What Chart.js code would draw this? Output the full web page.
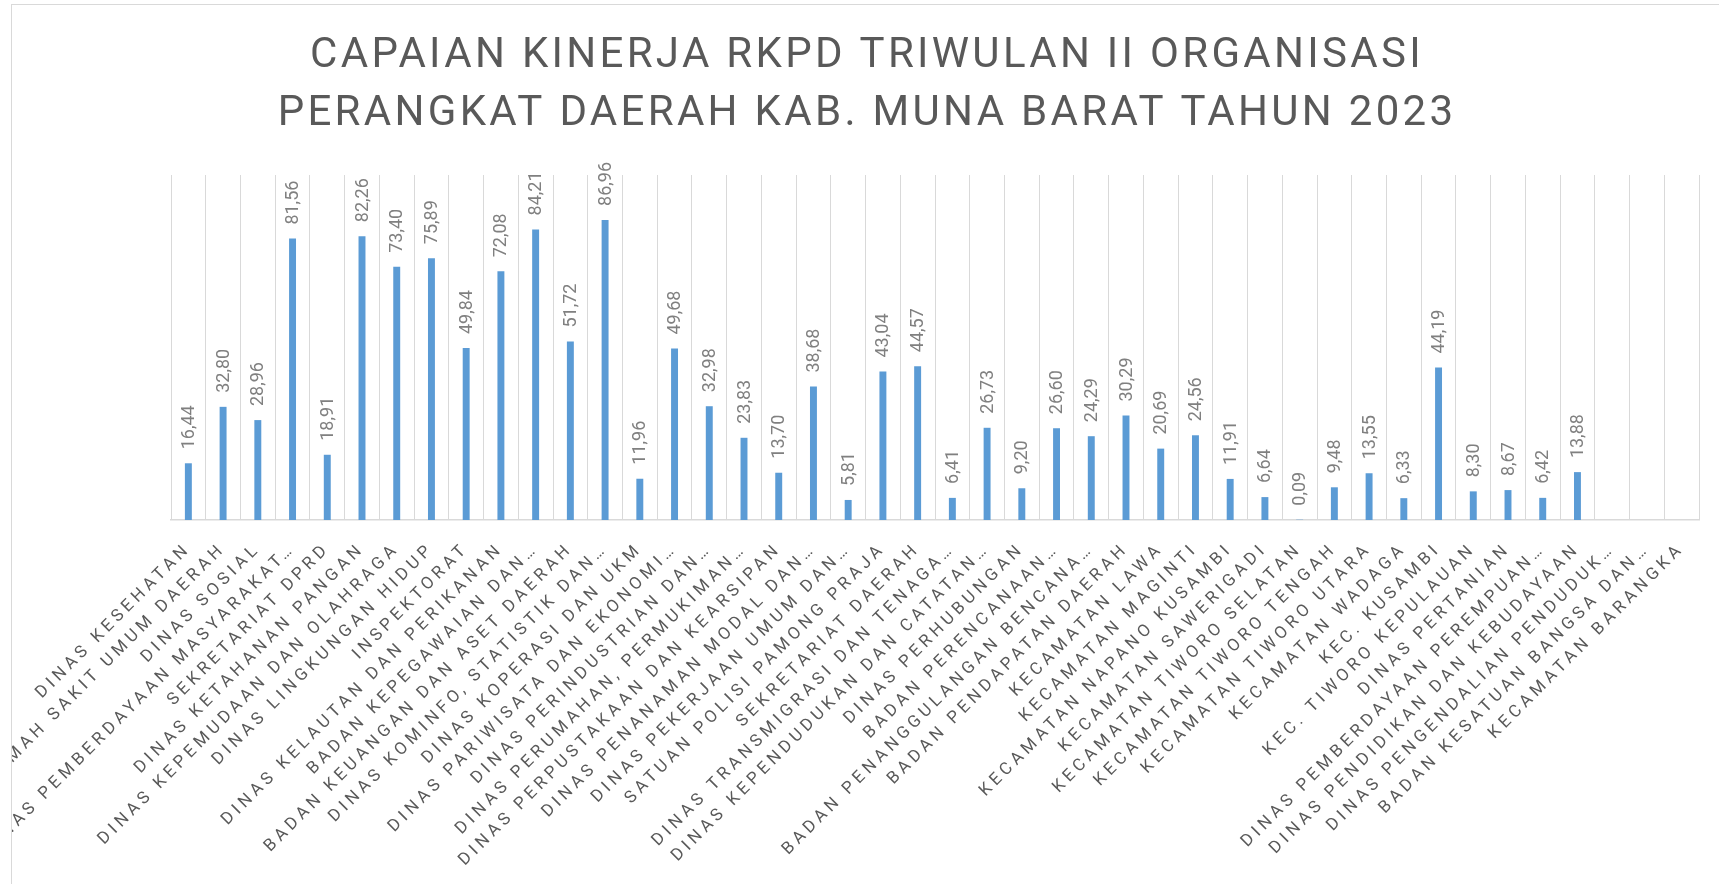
<!DOCTYPE html>
<html>
<head>
<meta charset="utf-8">
<script src="https://cdn.jsdelivr.net/npm/chart.js@4.4.1/dist/chart.umd.min.js"></script>
<style>
  html, body { margin: 0; padding: 0; background: #ffffff; overflow: hidden; width: 1719px; height: 884px; }
  #frame { position: absolute; left: 11px; top: 4px; width: 1710px; height: 880px;
           border-top: 1px solid #d9d9d9; border-left: 1px solid #d9d9d9; }
  canvas { display: block; }
</style>
</head>
<body>
<div id="frame"><canvas id="c" width="1710" height="879"></canvas></div>
<script>
// ---- data ----
const titleLines = [
  "CAPAIAN KINERJA RKPD TRIWULAN II ORGANISASI",
  "PERANGKAT DAERAH KAB. MUNA BARAT TAHUN 2023"
];

const categories = [
  "DINAS KESEHATAN",
  "RUMAH SAKIT UMUM DAERAH",
  "DINAS SOSIAL",
  "DINAS PEMBERDAYAAN MASYARAKAT…",
  "SEKRETARIAT DPRD",
  "DINAS KETAHANAN PANGAN",
  "DINAS KEPEMUDAAN DAN OLAHRAGA",
  "DINAS LINGKUNGAN HIDUP",
  "INSPEKTORAT",
  "DINAS KELAUTAN DAN PERIKANAN",
  "BADAN KEPEGAWAIAN DAN…",
  "BADAN KEUANGAN DAN ASET DAERAH",
  "DINAS KOMINFO, STATISTIK DAN…",
  "DINAS KOPERASI DAN UKM",
  "DINAS PARIWISATA DAN EKONOMI…",
  "DINAS PERINDUSTRIAN DAN…",
  "DINAS PERUMAHAN, PERMUKIMAN…",
  "DINAS PERPUSTAKAAN DAN KEARSIPAN",
  "DINAS PENANAMAN MODAL DAN…",
  "DINAS PEKERJAAN UMUM DAN…",
  "SATUAN POLISI PAMONG PRAJA",
  "SEKRETARIAT DAERAH",
  "DINAS TRANSMIGRASI DAN TENAGA…",
  "DINAS KEPENDUDUKAN DAN CATATAN…",
  "DINAS PERHUBUNGAN",
  "BADAN PERENCANAAN…",
  "BADAN PENANGGULANGAN BENCANA…",
  "BADAN PENDAPATAN DAERAH",
  "KECAMATAN LAWA",
  "KECAMATAN MAGINTI",
  "KECAMATAN NAPANO KUSAMBI",
  "KECAMATAN SAWERIGADI",
  "KECAMATAN TIWORO SELATAN",
  "KECAMATAN TIWORO TENGAH",
  "KECAMATAN TIWORO UTARA",
  "KECAMATAN WADAGA",
  "KEC. KUSAMBI",
  "KEC. TIWORO KEPULAUAN",
  "DINAS PERTANIAN",
  "DINAS PEMBERDAYAAN PEREMPUAN…",
  "DINAS PENDIDIKAN DAN KEBUDAYAAN",
  "DINAS PENGENDALIAN PENDUDUK…",
  "BADAN KESATUAN BANGSA DAN…",
  "KECAMATAN BARANGKA"
];

const capaian = [
  16.44, 32.80, 28.96, 81.56, 18.91, 82.26, 73.40, 75.89, 49.84, 72.08,
  84.21, 51.72, 86.96, 11.96, 49.68, 32.98, 23.83, 13.70, 38.68, 5.81,
  43.04, 44.57, 6.41, 26.73, 9.20, 26.60, 24.29, 30.29, 20.69, 24.56,
  11.91, 6.64, 0.09, 9.48, 13.55, 6.33, 44.19, 8.30, 8.67, 6.42,
  13.88, null, null, null
];

const yMin = 0;
const yMax = 100;

// ---- plugins ----
const spacingPlugin = {
  id: 'spacing',
  beforeDraw(chart) {
    const sx = chart.scales.x;
    if (sx && !sx.__ls) {
      const orig = sx.drawLabels;
      sx.drawLabels = function (area) {
        const c = this.ctx;
        const prev = c.letterSpacing;
        c.letterSpacing = '4.2px';
        orig.call(this, area);
        c.letterSpacing = prev || '0px';
      };
      sx.__ls = true;
    }
    const tb = chart.titleBlock;
    if (tb && !tb.__ls) {
      const o = tb.draw;
      tb.draw = function () {
        const c = this.ctx;
        const prev = c.letterSpacing;
        c.letterSpacing = '3.3px';
        o.apply(this, arguments);
        c.letterSpacing = prev || '0px';
      };
      tb.__ls = true;
    }
  }
};

const valueLabels = {
  id: 'valueLabels',
  afterDatasetsDraw(chart) {
    const ctx = chart.ctx;
    const meta = chart.getDatasetMeta(0);
    ctx.save();
    ctx.letterSpacing = '0px';
    ctx.font = '18px Roboto';
    ctx.fillStyle = '#808080';
    ctx.textAlign = 'left';
    ctx.textBaseline = 'middle';
    meta.data.forEach((bar, i) => {
      const v = capaian[i];
      if (v === null || v === undefined) return;
      ctx.save();
      ctx.translate(bar.x + 1, bar.y - 14);
      ctx.rotate(-Math.PI / 2);
      ctx.fillText(v.toFixed(2).replace('.', ','), 0, 0);
      ctx.restore();
    });
    ctx.restore();
  }
};

new Chart(document.getElementById('c'), {
  type: 'bar',
  data: {
    labels: categories,
    datasets: [{
      data: capaian,
      backgroundColor: '#5B9BD5',
      borderWidth: 0,
      barPercentage: 0.2,
      categoryPercentage: 1.0
    }]
  },
  options: {
    responsive: false,
    animation: false,
    layout: { padding: 0 },
    plugins: {
      legend: { display: false },
      tooltip: { enabled: false },
      title: {
        display: true,
        text: titleLines,
        color: '#595959',
        font: { family: 'Roboto', size: 42, weight: 'normal', lineHeight: 58.5 / 42 },
        padding: { top: 22, bottom: 31 }
      }
    },
    scales: {
      x: {
        grid: { color: '#d9d9d9', lineWidth: 1, drawTicks: false, offset: true },
        border: { color: '#d9d9d9', width: 1.5 },
        ticks: {
          autoSkip: false, maxRotation: 45, minRotation: 45,
          color: '#595959',
          font: { family: 'Roboto', size: 17 },
          padding: 19
        },
        afterFit(s) { s.height = 364; }
      },
      y: {
        min: yMin, max: yMax,
        grid: { display: false },
        border: { display: false },
        ticks: { display: false },
        afterFit(s) { s.width = 159; }
      },
      y2: {
        type: 'linear',
        position: 'right',
        grid: { display: false },
        border: { display: false },
        ticks: { display: false },
        afterFit(s) { s.width = 23; }
      }
    }
  },
  plugins: [spacingPlugin, valueLabels]
});
</script>
</body>
</html>
